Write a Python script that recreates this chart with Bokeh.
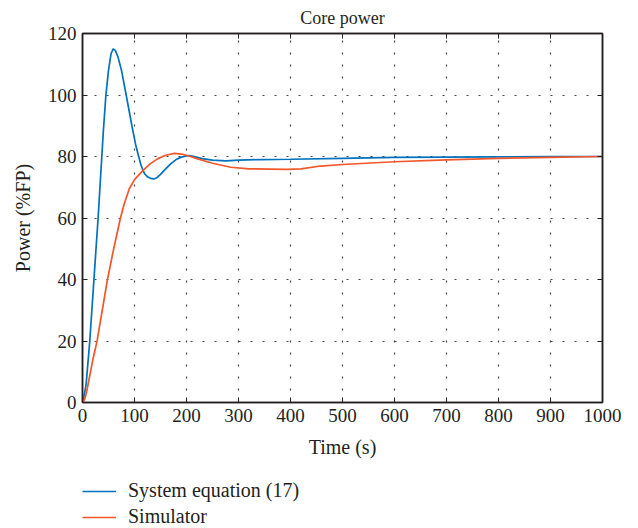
from bokeh.plotting import figure
from bokeh.models import (Range1d, FixedTicker, LinearAxis, Legend, LegendItem, Grid)
from bokeh.layouts import column
from bokeh.embed import file_html
from bokeh.resources import INLINE

# ---- data ----
t_sys = [0, 3, 7, 10, 14, 18, 22, 26, 30, 35, 40, 45, 50, 55, 59, 63, 68, 75, 84,
         95, 102, 108, 112, 116, 120, 125, 131, 137, 143, 150, 160, 170, 180, 190,
         200, 206, 215, 230, 250, 276, 300, 343, 400, 500, 600, 700, 800, 900, 1000]
p_sys = [0, 2, 6, 12, 20, 30, 40, 50, 60, 74, 88, 100, 108, 113.5, 115, 114.5, 112.5,
         108, 100, 90, 84, 80, 77.5, 75.6, 74.3, 73.4, 72.9, 72.7, 73.1, 74.2, 76.0,
         77.7, 79.0, 79.8, 80.2, 80.3, 80.0, 79.3, 78.8, 78.6, 78.8, 79.0, 79.1, 79.4,
         79.7, 79.8, 79.9, 80.0, 80.0]

t_sim = [0, 4, 8, 12, 20, 28, 38, 48, 60, 73, 80, 90, 100, 116, 130, 145, 160, 177,
         190, 200, 220, 250, 285, 320, 360, 394, 420, 458, 500, 600, 700, 800, 900, 1000]
p_sim = [0, 1, 3.5, 7, 14, 20, 30, 40, 50, 60, 64.5, 69.5, 72.5, 75.4, 77.6, 79.3,
         80.4, 81.0, 80.8, 80.4, 79.3, 77.8, 76.5, 76.0, 75.9, 75.8, 76.0, 76.9, 77.4,
         78.3, 78.9, 79.4, 79.7, 80.0]

x_ticks = [0, 100, 200, 300, 400, 500, 600, 700, 800, 900, 1000]
y_ticks = [0, 20, 40, 60, 80, 100, 120]

title_text = "Core power"
x_label = "Time (s)"
y_label = "Power (%FP)"
series_names = ["System equation (17)", "Simulator"]

BLUE = "#0072BD"
ORANGE = "#F2572A"
FONT = "Liberation Serif"
TXT = "#231F20"
W = 630

p = figure(width=W, height=465, output_backend="svg", toolbar_location=None,
           x_range=Range1d(0, 1000), y_range=Range1d(0, 120),
           min_border_left=81, min_border_right=W - 602, min_border_top=33,
           min_border_bottom=63, x_axis_type=None, y_axis_type=None)

p.title.text = title_text
p.title.align = "center"
p.title.text_font = FONT
p.title.text_font_size = "18px"
p.title.text_font_style = "normal"
p.title.text_color = TXT
p.title.standoff = 11

p.outline_line_color = "#231F20"
p.outline_line_width = 1.5

def make_axis(ticks, labels=True, label=None):
    ax = LinearAxis(ticker=FixedTicker(ticks=ticks))
    ax.major_tick_in = 5
    ax.major_tick_out = 0
    ax.minor_tick_line_color = None
    ax.axis_line_color = "#231F20"
    ax.axis_line_width = 1.5
    ax.major_tick_line_color = "#231F20"
    ax.major_tick_line_width = 1
    ax.major_label_text_font = FONT
    ax.major_label_text_font_size = "19px"
    ax.major_label_text_color = TXT
    ax.major_label_standoff = 6
    if not labels:
        ax.major_label_overrides = {tk: "" for tk in ticks}
        ax.major_label_standoff = 0
    if label:
        ax.axis_label = label
        ax.axis_label_text_font = FONT
        ax.axis_label_text_font_size = "20px"
        ax.axis_label_text_font_style = "normal"
        ax.axis_label_text_color = TXT
        ax.axis_label_standoff = 11
    return ax

xax = make_axis(x_ticks, True, x_label)
yax = make_axis(y_ticks, True, y_label)
p.add_layout(xax, "below")
p.add_layout(yax, "left")
p.add_layout(make_axis(x_ticks, False), "above")
p.add_layout(make_axis(y_ticks, False), "right")

for dim, ticks in ((0, x_ticks), (1, y_ticks)):
    g = Grid(dimension=dim, ticker=FixedTicker(ticks=ticks))
    g.grid_line_color = "#444444"
    g.grid_line_dash = "2 10"
    g.grid_line_width = 1.2
    p.add_layout(g, "center")

r1 = p.line(t_sys, p_sys, line_color=BLUE, line_width=1.7)
r2 = p.line(t_sim, p_sim, line_color=ORANGE, line_width=1.7)

# legend panel underneath the chart (same series, drawn off-range)
q = figure(width=W, height=62, output_backend="svg", toolbar_location=None,
           x_range=Range1d(5000, 6000), y_range=Range1d(5000, 6000),
           min_border_left=82, min_border_right=0, min_border_top=14,
           min_border_bottom=0, x_axis_type=None, y_axis_type=None)
q.outline_line_color = None
l1 = q.line(t_sys, p_sys, line_color=BLUE, line_width=1.7)
l2 = q.line(t_sim, p_sim, line_color=ORANGE, line_width=1.7)

legend = Legend(items=[LegendItem(label=series_names[0], renderers=[l1]),
                       LegendItem(label=series_names[1], renderers=[l2])],
                location="top_left", orientation="vertical")
legend.label_text_font = FONT
legend.label_text_font_size = "20px"
legend.label_text_color = TXT
legend.glyph_width = 34
legend.glyph_height = 20
legend.label_height = 20
legend.spacing = 3
legend.padding = 0
legend.margin = 0
legend.label_standoff = 12
legend.border_line_color = None
legend.background_fill_alpha = 0
q.add_layout(legend, "center")

layout = column(p, q, spacing=0)
open("out.html", "w").write(file_html(layout, INLINE))
